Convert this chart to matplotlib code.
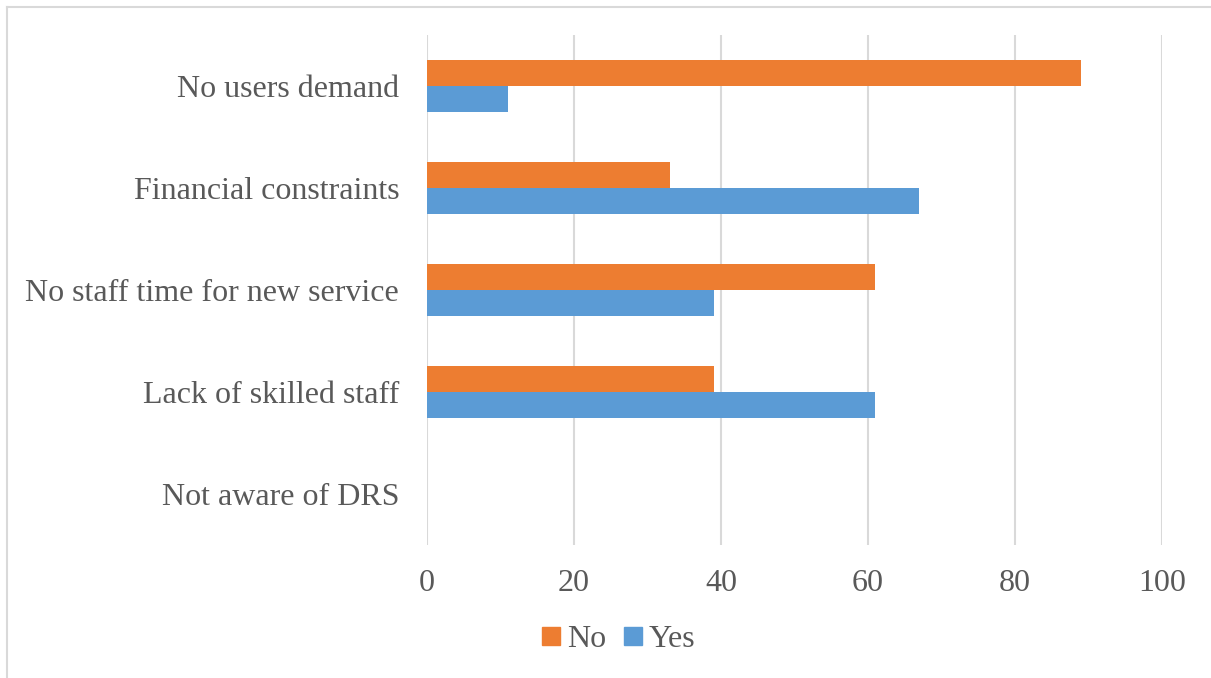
import numpy as np
import matplotlib.pyplot as plt
from matplotlib.lines import Line2D

categories = ['No users demand', 'Financial constraints', 'No staff time for new service',
              'Lack of skilled staff', 'Not aware of DRS']
no_vals = [89, 33, 61, 39, 0]
yes_vals = [11, 67, 39, 61, 0]
xticks = [0, 20, 40, 60, 80, 100]


def main():
    plt.rcParams['font.family'] = ['Liberation Serif', 'DejaVu Serif']
    fig = plt.figure(figsize=(12.11, 6.78), dpi=100)
    ax = fig.add_axes([0.3526, 0.196, 0.6069, 0.752])

    y = np.arange(len(categories))
    h = 0.255
    ax.barh(y - h / 2, no_vals, height=h, color='#ED7D31', label='No', zorder=3)
    ax.barh(y + h / 2, yes_vals, height=h, color='#5B9BD5', label='Yes', zorder=3)

    ax.set_ylim(len(categories) - 0.5, -0.5)
    ax.set_xlim(0, 100)
    ax.set_xticks(xticks)
    ax.set_yticks(y)
    ax.set_yticklabels(categories)
    ax.tick_params(axis='both', length=0, labelsize=23, colors='#595959')
    ax.tick_params(axis='x', pad=17.5)
    ax.tick_params(axis='y', pad=20)
    ax.grid(axis='x', color='#d9d9d9', linewidth=1.5, zorder=0)
    for s in ax.spines.values():
        s.set_visible(False)

    handles = [Line2D([], [], marker='s', linestyle='none', markersize=13,
                      markerfacecolor=c, markeredgecolor=c) for c in ['#ED7D31', '#5B9BD5']]
    leg = fig.legend(handles, ['No', 'Yes'], loc='center', bbox_to_anchor=(0.508, 0.057),
                     ncol=2, frameon=False, fontsize=23, handletextpad=0.0,
                     columnspacing=0.35, handlelength=1.0)
    for t in leg.get_texts():
        t.set_color('#595959')

    # light frame round the figure
    fig.add_artist(Line2D([0.006, 0.006], [0, 0.99], transform=fig.transFigure,
                          color='#d9d9d9', linewidth=1.5))
    fig.add_artist(Line2D([0.006, 1], [0.99, 0.99], transform=fig.transFigure,
                          color='#d9d9d9', linewidth=1.5))

    fig.savefig('out.png', dpi=100)


if __name__ == '__main__':
    main()
